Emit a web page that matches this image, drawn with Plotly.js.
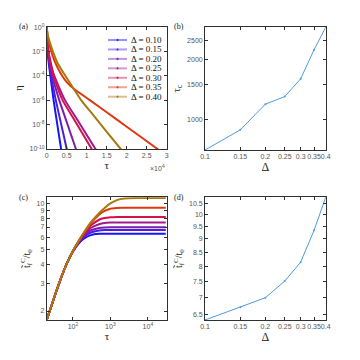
<!DOCTYPE html>
<html>
  <head>
    <title>Eta decay and tau_c / t_f panels</title>
    <meta http-equiv="content-type" content="text/html; charset=utf-8" />
    <style>
      body {
        margin: 0;
        background-color: #ffffff;
      }
      #chart {
        width: 360px;
        height: 360px;
      }
    </style>
    <script src="https://cdn.plot.ly/plotly-3.0.1.min.js"></script>
  </head>
  <body>
    <div id="chart"></div>
    <script>
      // one entry per Delta
      var deltas = [0.10, 0.15, 0.20, 0.25, 0.30, 0.35, 0.40];
      var deltaLabels = ['Δ = 0.10', 'Δ = 0.15', 'Δ = 0.20', 'Δ = 0.25', 'Δ = 0.30', 'Δ = 0.35', 'Δ = 0.40'];
      var deltaTicks = ['0.1', '0.15', '0.2', '0.25', '0.3', '0.35', '0.4'];
      var colors = ['#1414ff', '#4a1ee0', '#7a1cb4', '#a01a8c', '#d4104e', '#e0380e', '#a8780e'];

      // panel (a): tau and log10(eta)
      var tauA = [
        [0, 70, 200, 500, 850, 1700, 2600, 3600, 3700],
        [0, 80, 250, 600, 1000, 2250, 3500, 5000, 5100],
        [0, 100, 300, 700, 1200, 3100, 5000, 7300, 7500],
        [0, 120, 400, 1000, 1700, 4500, 8000, 12200, 12600],
        [0, 100, 380, 900, 1500, 3900, 7000, 11250, 11600],
        [0, 300, 1000, 2000, 3500, 5000, 6700, 10600, 15000, 20000, 27700, 28500],
        [0, 400, 1400, 2800, 4300, 6700, 8500, 12000, 18500, 19000]
      ];
      var logEtaA = [
        [0, -1.0, -1.85, -2.9, -3.8, -5.94, -7.87, -10, -10.2],
        [0, -1.0, -1.85, -2.9, -3.8, -5.94, -7.79, -10, -10.2],
        [0, -0.95, -1.85, -2.9, -3.8, -5.94, -7.78, -10, -10.2],
        [0, -0.9, -1.85, -2.9, -3.8, -5.94, -7.78, -10, -10.2],
        [0, -0.9, -1.85, -2.9, -3.8, -5.94, -7.65, -10, -10.2],
        [0, -0.9, -1.85, -2.8, -3.8, -4.5, -5.03, -5.94, -6.98, -8.17, -10, -10.2],
        [0, -0.8, -1.85, -3.0, -3.8, -5.03, -5.94, -7.36, -10, -10.2]
      ];

      // panel (b): tau_c vs Delta
      var tauC = [700, 884, 1190, 1300, 1597, 2237, 2900];

      // panel (c): t_f^C / t_0 vs tau
      var tauC_x = [20, 30, 50, 70, 100, 150, 200, 300, 500, 700, 1000, 1500, 2000, 3000, 5000, 10000, 30000];
      var tfC = [
        [1.75, 2.35, 3.35, 4.1, 4.85, 5.55, 5.9, 6.2, 6.32, 6.34, 6.34, 6.34, 6.34, 6.34, 6.34, 6.34, 6.34],
        [1.75, 2.35, 3.35, 4.1, 4.86, 5.6, 6.05, 6.45, 6.65, 6.69, 6.7, 6.7, 6.7, 6.7, 6.7, 6.7, 6.7],
        [1.75, 2.35, 3.35, 4.1, 4.87, 5.65, 6.15, 6.65, 6.9, 6.96, 6.98, 6.98, 6.98, 6.98, 6.98, 6.98, 6.98],
        [1.75, 2.35, 3.35, 4.1, 4.88, 5.7, 6.25, 6.9, 7.3, 7.43, 7.48, 7.5, 7.5, 7.5, 7.5, 7.5, 7.5],
        [1.75, 2.35, 3.35, 4.1, 4.89, 5.75, 6.35, 7.15, 7.8, 8.0, 8.1, 8.14, 8.14, 8.14, 8.14, 8.14, 8.14],
        [1.75, 2.35, 3.35, 4.1, 4.9, 5.8, 6.45, 7.4, 8.4, 8.9, 9.2, 9.3, 9.34, 9.34, 9.34, 9.34, 9.34],
        [1.75, 2.35, 3.35, 4.1, 4.9, 5.8, 6.5, 7.5, 8.6, 9.3, 9.95, 10.45, 10.65, 10.75, 10.77, 10.77, 10.77]
      ];

      // panel (d): final t_f^C / t_0 vs Delta
      var tfFinal = [6.34, 6.70, 6.98, 7.5, 8.14, 9.34, 10.77];

      var tickFont = {family: 'Liberation Sans, Arial, sans-serif', size: 7, color: '#555555'};
      var serif = 'Liberation Serif, DejaVu Serif, serif';
      var lineBlue = '#4d9be0';

      function axis(extra) {
        var a = {
          showline: true, linecolor: '#303030', linewidth: 0.8,
          mirror: 'allticks', ticks: 'inside', ticklen: 3, tickcolor: '#303030', tickwidth: 0.8,
          tickfont: tickFont, tickangle: 0, showgrid: false, zeroline: false, automargin: false
        };
        for (var k in extra) a[k] = extra[k];
        return a;
      }

      var traces = [];
      var i;
      for (i = 0; i < deltas.length; i++) {
        traces.push({
          x: tauA[i],
          y: logEtaA[i].map(function (v) { return Math.pow(10, v); }),
          type: 'scatter', mode: 'lines',
          line: {color: colors[i], width: 2, shape: 'spline', smoothing: 0.6},
          xaxis: 'x', yaxis: 'y', showlegend: false, hoverinfo: 'skip'
        });
      }
      traces.push({
        x: deltas, y: tauC, type: 'scatter', mode: 'lines+markers',
        line: {color: lineBlue, width: 1}, marker: {color: lineBlue, size: 2},
        xaxis: 'x2', yaxis: 'y2', showlegend: false
      });
      for (i = 0; i < deltas.length; i++) {
        traces.push({
          x: tauC_x, y: tfC[i], type: 'scatter', mode: 'lines',
          line: {color: colors[i], width: 2, shape: 'spline', smoothing: 0.6},
          xaxis: 'x3', yaxis: 'y3', showlegend: false, hoverinfo: 'skip'
        });
      }
      traces.push({
        x: deltas, y: tfFinal, type: 'scatter', mode: 'lines+markers',
        line: {color: lineBlue, width: 1}, marker: {color: lineBlue, size: 2},
        xaxis: 'x4', yaxis: 'y4', showlegend: false
      });

      // legend for panel (a), drawn in paper coords
      var shapes = [];
      var annotations = [];
      for (i = 0; i < deltas.length; i++) {
        var yy = 1 - (40 + 9.45 * i) / 360;
        shapes.push({type: 'line', xref: 'paper', yref: 'paper',
          x0: 108 / 360, x1: 127 / 360, y0: yy, y1: yy,
          line: {color: colors[i], width: 2}, opacity: 0.45});
        shapes.push({type: 'circle', xref: 'paper', yref: 'paper',
          x0: 116.7 / 360, x1: 118.3 / 360, y0: yy - 0.8 / 360, y1: yy + 0.8 / 360,
          line: {color: colors[i], width: 0.5}, fillcolor: colors[i]});
        annotations.push({xref: 'paper', yref: 'paper', x: 129 / 360, y: yy,
          xanchor: 'left', yanchor: 'middle', showarrow: false,
          text: deltaLabels[i], font: {family: serif, size: 9, color: '#111'}});
      }

      var panelLabels = [['(a)', 17, 27], ['(b)', 172, 27], ['(c)', 17, 197], ['(d)', 172, 197]];
      panelLabels.forEach(function (p) {
        annotations.push({xref: 'paper', yref: 'paper', x: p[1] / 360, y: 1 - p[2] / 360,
          xanchor: 'left', yanchor: 'middle', showarrow: false, text: p[0],
          font: {family: serif, size: 8, color: '#222'}});
      });
      annotations.push({xref: 'paper', yref: 'paper', x: 167 / 360, y: 1 - 168 / 360,
        xanchor: 'right', yanchor: 'middle', showarrow: false, text: '×10<sup>4</sup>',
        font: tickFont});

      var log = function (v) { return Math.log10(v); };
      var titleFont = function (s) { return {family: serif, size: s, color: '#222'}; };

      var layout = {
        width: 360, height: 360,
        margin: {l: 0, r: 0, t: 0, b: 0},
        paper_bgcolor: '#ffffff', plot_bgcolor: '#ffffff',
        showlegend: false,
        xaxis: axis({domain: [46.7 / 360, 166.7 / 360], anchor: 'y', range: [0, 30000],
          tickvals: [0, 5000, 10000, 15000, 20000, 25000, 30000],
          ticktext: ['0', '0.5', '1', '1.5', '2', '2.5', '3'],
          title: {text: 'τ', font: titleFont(11), standoff: 3}}),
        yaxis: axis({domain: [1 - 149 / 360, 1 - 27.3 / 360], anchor: 'x', type: 'log', range: [-10, 0],
          tickvals: [1e-10, 1e-8, 1e-6, 1e-4, 1e-2, 1],
          ticktext: ['10<sup>-10</sup>', '10<sup>-8</sup>', '10<sup>-6</sup>', '10<sup>-4</sup>', '10<sup>-2</sup>', '10<sup>0</sup>'],
          title: {text: 'η', font: titleFont(11), standoff: 4}}),
        xaxis2: axis({domain: [205 / 360, 325.7 / 360], anchor: 'y2', type: 'log', range: [log(0.1), log(0.4)],
          tickvals: deltas, ticktext: deltaTicks,
          title: {text: 'Δ', font: titleFont(12), standoff: 3}}),
        yaxis2: axis({domain: [1 - 150 / 360, 1 - 27.3 / 360], anchor: 'x2', type: 'log', range: [log(700), log(2900)],
          tickvals: [1000, 1500, 2000, 2500], ticktext: ['1000', '1500', '2000', '2500'],
          title: {text: 'τ<sub>c</sub>', font: titleFont(11), standoff: 4}}),
        xaxis3: axis({domain: [46.7 / 360, 167.3 / 360], anchor: 'y3', type: 'log', range: [log(20), log(33000)],
          tickvals: [100, 1000, 10000], ticktext: ['10<sup>2</sup>', '10<sup>3</sup>', '10<sup>4</sup>'],
          title: {text: 'τ', font: titleFont(11), standoff: 3}}),
        yaxis3: axis({domain: [1 - 320 / 360, 1 - 197.3 / 360], anchor: 'x3', type: 'log', range: [log(1.75), log(10.9)],
          tickvals: [2, 3, 4, 5, 6, 7, 8, 9, 10], ticktext: ['2', '3', '4', '5', '6', '7', '8', '9', '10'],
          title: {text: 't̃<sub>f</sub><sup>C</sup>/t<sub>0</sub>', font: titleFont(10), standoff: 4}}),
        xaxis4: axis({domain: [205 / 360, 325.7 / 360], anchor: 'y4', type: 'log', range: [log(0.1), log(0.4)],
          tickvals: deltas, ticktext: deltaTicks,
          title: {text: 'Δ', font: titleFont(12), standoff: 3}}),
        yaxis4: axis({domain: [1 - 320 / 360, 1 - 197.3 / 360], anchor: 'x4', type: 'log', range: [log(6.34), log(10.77)],
          tickvals: [6.5, 7, 7.5, 8, 8.5, 9, 9.5, 10, 10.5], ticktext: ['6.5', '7', '7.5', '8', '8.5', '9', '9.5', '10', '10.5'],
          title: {text: 't̃<sub>f</sub><sup>C</sup>/t<sub>0</sub>', font: titleFont(10), standoff: 4}}),
        shapes: shapes,
        annotations: annotations
      };

      Plotly.newPlot('chart', traces, layout, {displayModeBar: false});
    </script>
  </body>
</html>
